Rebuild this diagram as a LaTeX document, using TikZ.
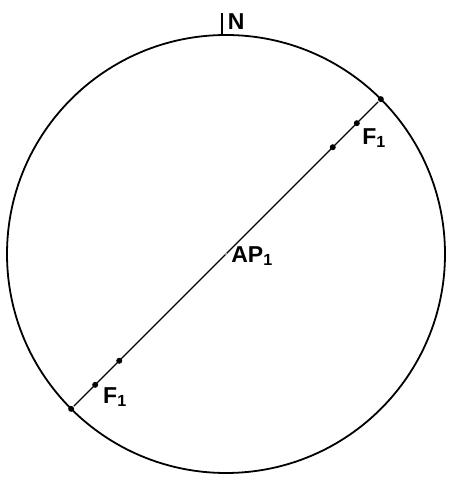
\documentclass[tikz,border=0pt]{standalone}
\usepackage{fontspec}
\setmainfont{Liberation Sans}
\usetikzlibrary{calc,positioning}

\begin{document}
\begin{tikzpicture}[x=1pt, y=1pt, line width=1.8pt,
  lbl/.style={font=\fontsize{23}{25}\selectfont\bfseries, inner sep=0pt},
  pt/.style={circle, fill=black, inner sep=0pt, minimum size=6pt}]
  \useasboundingbox (0,0) rectangle (449,479);
  %% Circle and north mark
  \coordinate (O) at (226,225);
  \draw (O) circle (219);
  \coordinate (top) at ($(O)+(-4,219)$);
  \draw[line width=1.4pt] (top) -- ++(0,22) coordinate (tick);
  \node[lbl, anchor=south west] (north) at ($(top)+(5,5)$) {N};

  %% Diameter through AP1
  \node[pt] (e1) at ($(O)+(45:219)$) {};
  \node[pt] (e2) at ($(O)+(225:219)$) {};
  \draw[line width=1.4pt] (e1) -- (e2);
  \foreach \ang/\r/\nm in {45/185/a1, 45/151/a2, 225/185/b1, 225/151/b2}{
    \node[pt] (\nm) at ($(O)+(\ang:\r)$) {};
  }
  \node[circle, fill=gray!60, inner sep=0pt, minimum size=2.5pt] (ap) at (O) {};

  %% Labels
  \node[lbl] (f1) at ($(O)+(148,116)$) {F\textsubscript{1}};
  \node[lbl] (f2) at ($(O)+(-111,-143)$) {F\textsubscript{1}};
  \node[lbl] (apl) at ($(O)+(26,-2)$) {AP\textsubscript{1}};
\end{tikzpicture}
\end{document}
